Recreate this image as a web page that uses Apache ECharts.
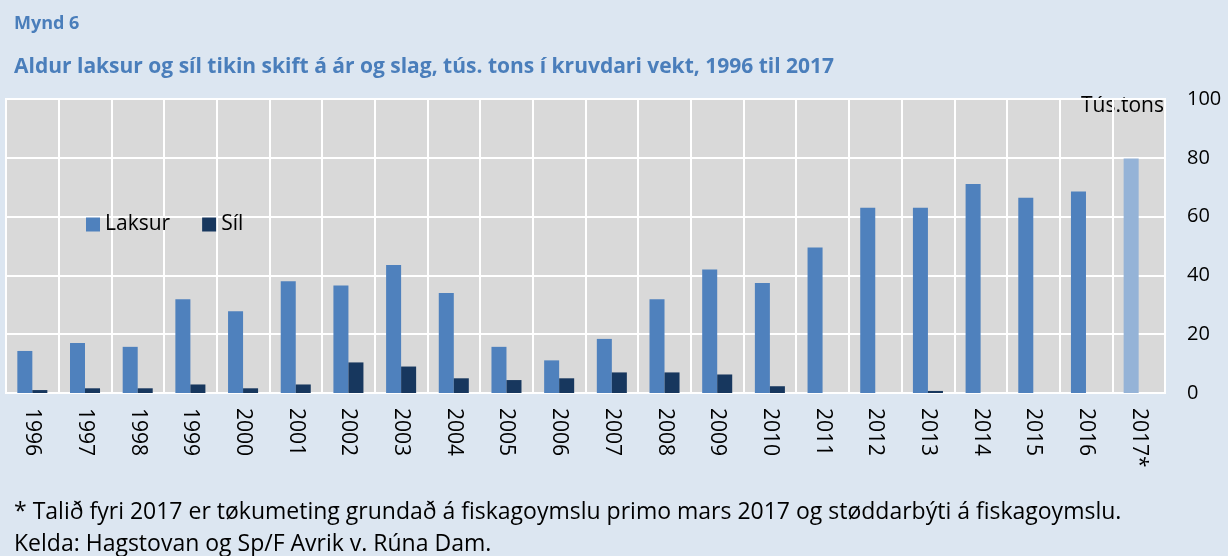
<!DOCTYPE html>
<html>
<head>
<meta charset="utf-8">
<script src="https://cdn.jsdelivr.net/npm/echarts@6/dist/echarts.min.js"></script>
<style>
html,body{margin:0;padding:0;background:#DCE6F1;}
#c{width:1228px;height:556px;}
</style>
</head>
<body>
<div id="c"></div>
<script>
const years = ['1996','1997','1998','1999','2000','2001','2002','2003','2004','2005','2006','2007','2008','2009','2010','2011','2012','2013','2014','2015','2016','2017*'];
const laksur = [14.3,17.0,15.7,31.9,27.8,38.0,36.6,43.5,34.0,15.7,11.1,18.4,31.9,42.0,37.4,49.5,63.0,63.0,71.1,66.4,68.5,79.8];
const sil = [1.0,1.6,1.6,2.9,1.6,2.9,10.4,9.0,5.0,4.4,5.0,7.0,7.0,6.3,2.3,0,0,0.7,0,0,0,0];
const yTicks = [0,20,40,60,80,100];
const seriesNames = ['Laksur','Síl'];
const titleText = 'Mynd 6';
const subtitleText = 'Aldur laksur og síl tikin skift á ár og slag, tús. tons í kruvdari vekt, 1996 til 2017';
const unitText = 'Tús.tons';
const note1 = '* Talið fyri 2017 er tøkumeting grundað á fiskagoymslu primo mars 2017 og støddarbýti á fiskagoymslu.';
const note2 = 'Kelda: Hagstovan og Sp/F Avrik v. Rúna Dam.';

const cLaks = '#4F81BD', cLaksEst = '#95B3D7', cSil = '#17375E';
const font = '"Open Sans", Lato, sans-serif';

const chart = echarts.init(document.getElementById('c'));
chart.setOption({
  backgroundColor: '#DCE6F1',
  animation: false,
  title: [
    {text: titleText, left: 9, top: 10, textStyle: {fontFamily: font, fontSize: 18, fontWeight: 'bold', color: '#4A7EBB'}},
    {text: subtitleText, left: 9, top: 52, textStyle: {fontFamily: font, fontSize: 21, fontWeight: 'bold', color: '#4A7EBB'}},
    {text: note1, left: 9, top: 496, textStyle: {fontFamily: font, fontSize: 23, fontWeight: 'normal', color: '#000'}},
    {text: note2, left: 9, top: 528, textStyle: {fontFamily: font, fontSize: 23, fontWeight: 'normal', color: '#000'}}
  ],
  legend: {
    data: seriesNames, left: 81, top: 209, itemWidth: 14, itemHeight: 14, itemGap: 32,
    icon: 'rect',
    textStyle: {fontFamily: font, fontSize: 21, color: '#000'}
  },
  grid: {left: 6, right: 63, top: 99, bottom: 163, show: true, backgroundColor: '#D9D9D9', borderColor: '#FFFFFF', borderWidth: 2},
  graphic: [{type: 'text', right: 64, top: 96, style: {text: unitText, font: '21px ' + font, fill: '#000'}}],
  xAxis: {
    type: 'category', data: years, boundaryGap: true,
    axisLine: {show: false}, axisTick: {show: false},
    splitLine: {show: true, lineStyle: {color: '#FFFFFF', width: 2}},
    axisLabel: {rotate: -90, margin: 15, fontFamily: font, fontSize: 21, color: '#000', interval: 0}
  },
  yAxis: {
    type: 'value', position: 'right', min: 0, max: 100, interval: 20,
    axisLine: {show: false}, axisTick: {show: false},
    splitLine: {show: true, lineStyle: {color: '#FFFFFF', width: 2}},
    axisLabel: {margin: 22, fontFamily: font, fontSize: 20, color: '#000'}
  },
  series: [
    {name: seriesNames[0], type: 'bar', barGap: '0%', barCategoryGap: '43%', itemStyle: {color: cLaks},
     data: laksur.map((v, i) => i === years.length - 1 ? {value: v, itemStyle: {color: cLaksEst}} : v)},
    {name: seriesNames[1], type: 'bar', itemStyle: {color: cSil}, data: sil}
  ]
});
</script>
</body>
</html>
